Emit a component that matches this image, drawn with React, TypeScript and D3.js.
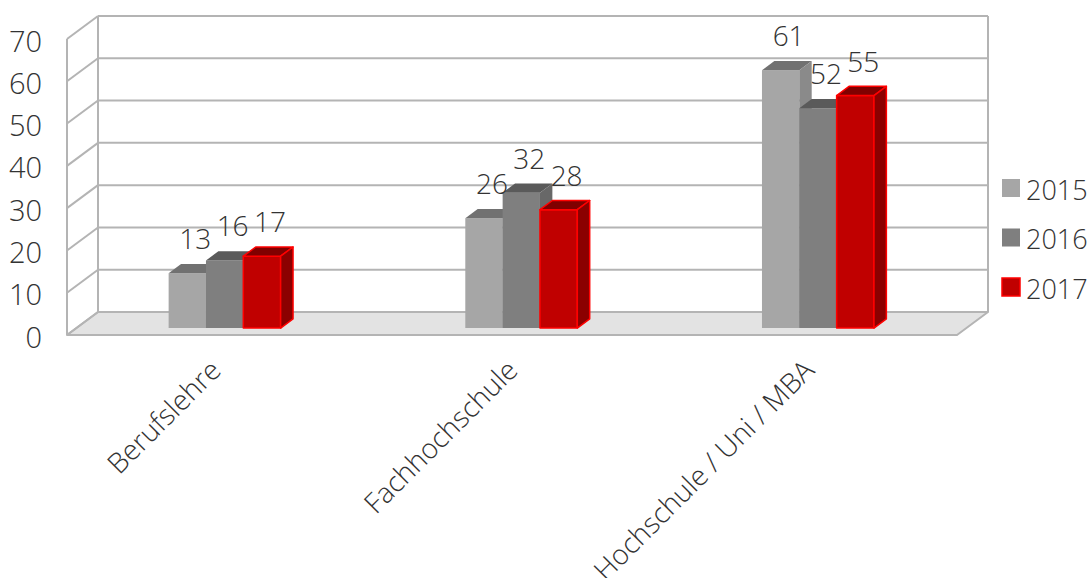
import React from 'react';
import * as d3 from 'd3';

const categories = ['Berufslehre', 'Fachhochschule', 'Hochschule / Uni / MBA'];
const series = ['2015', '2016', '2017'];
const values2015 = [13, 26, 61];
const values2016 = [16, 32, 52];
const values2017 = [17, 28, 55];
const yTicks = [0, 10, 20, 30, 40, 50, 60, 70];

const W = 1092;
const H = 578;
const FRONT_LEFT = 67;
const FRONT_RIGHT = 957;
const FRONT_BOTTOM = 335;
const FRONT_TOP = 39;
const DX = 31;
const DY = -23;
const BAR_D0 = 0.3;
const BAR_D1 = 0.7;
const GRID = '#b4b4b4';
const TEXT = '#333333';
const FONT = "'Open Sans', 'Noto Sans', sans-serif";
const WEIGHT = 300;

const styles: Record<string, { front: string; top: string; side: string; stroke: string }> = {
  '2015': { front: '#a6a6a6', top: '#717171', side: '#8a8a8a', stroke: 'none' },
  '2016': { front: '#7f7f7f', top: '#5a5a5a', side: '#686868', stroke: 'none' },
  '2017': { front: '#c00000', top: '#800000', side: '#8b0000', stroke: '#ff0000' },
};

export default function App() {
  const x = d3.scaleBand<string>().domain(categories).range([FRONT_LEFT, FRONT_RIGHT]);
  const y = d3.scaleLinear().domain([0, 70]).range([FRONT_BOTTOM, FRONT_TOP]);
  const inner = d3.scaleBand<string>().domain(series).range([-56, 56]);
  const bw = inner.bandwidth();
  const P = (px: number, py: number, d: number): [number, number] => [px + DX * d, py + DY * d];
  const poly = (pts: [number, number][]) => pts.map((p) => p.join(',')).join(' ');

  const seriesValues: Record<string, number[]> = {
    '2015': values2015,
    '2016': values2016,
    '2017': values2017,
  };

  const bars: JSX.Element[] = [];
  const labels: JSX.Element[] = [];
  categories.forEach((c, ci) => {
    const gc = (x(c) as number) + x.bandwidth() / 2;
    series.forEach((s) => {
      const v = seriesValues[s][ci];
      const x0 = gc + (inner(s) as number);
      const x1 = x0 + bw;
      const yb = y(0);
      const yv = y(v);
      const st = styles[s];
      const front = poly([P(x0, yb, BAR_D0), P(x1, yb, BAR_D0), P(x1, yv, BAR_D0), P(x0, yv, BAR_D0)]);
      const top = poly([P(x0, yv, BAR_D0), P(x1, yv, BAR_D0), P(x1, yv, BAR_D1), P(x0, yv, BAR_D1)]);
      const side = poly([P(x1, yb, BAR_D0), P(x1, yb, BAR_D1), P(x1, yv, BAR_D1), P(x1, yv, BAR_D0)]);
      const sw = st.stroke === 'none' ? 0 : 1.5;
      bars.push(
        <g key={`${c}-${s}`}>
          <polygon points={front} fill={st.front} stroke={st.stroke} strokeWidth={sw} strokeLinejoin="round" />
          <polygon points={top} fill={st.top} stroke={st.stroke} strokeWidth={sw} strokeLinejoin="round" />
          <polygon points={side} fill={st.side} stroke={st.stroke} strokeWidth={sw} strokeLinejoin="round" />
        </g>
      );
      const [lx, ly] = P(x0 + bw / 2 + 8, yv - 24, BAR_D0);
      labels.push(
        <text key={`l-${c}-${s}`} x={lx} y={ly} textAnchor="middle" fontSize={28} fontWeight={WEIGHT} fill={TEXT} fontFamily={FONT}>
          {v}
        </text>
      );
    });
  });

  const floor = poly([
    [FRONT_LEFT, y(0)],
    P(FRONT_LEFT, y(0), 1),
    P(FRONT_RIGHT, y(0), 1),
    [FRONT_RIGHT, y(0)],
  ]);

  return (
    <svg width={W} height={H} style={{ position: 'absolute', left: 0, top: 0, background: '#fff' }}>
      <polygon points={floor} fill="#e3e3e3" stroke={GRID} strokeWidth={2} strokeLinejoin="round" />
      {yTicks.map((t) => {
        const [bx, by] = P(FRONT_LEFT, y(t), 1);
        const [ex] = P(FRONT_RIGHT, y(t), 1);
        return (
          <g key={`g-${t}`}>
            <line x1={FRONT_LEFT} y1={y(t)} x2={bx} y2={by} stroke={GRID} strokeWidth={2} />
            {t > 0 && <line x1={bx} y1={by} x2={ex} y2={by} stroke={GRID} strokeWidth={2} />}
          </g>
        );
      })}
      <line x1={FRONT_LEFT} y1={y(0)} x2={FRONT_LEFT} y2={y(70)} stroke={GRID} strokeWidth={2} />
      <line x1={FRONT_LEFT + DX} y1={y(0) + DY} x2={FRONT_LEFT + DX} y2={y(70) + DY} stroke={GRID} strokeWidth={2} />
      <line x1={FRONT_RIGHT + DX} y1={y(0) + DY} x2={FRONT_RIGHT + DX} y2={y(70) + DY} stroke={GRID} strokeWidth={2} />
      {yTicks.map((t) => (
        <text key={`t-${t}`} x={42} y={y(t) + 1} textAnchor="end" dominantBaseline="central" fontSize={29} fontWeight={WEIGHT} fill={TEXT} fontFamily={FONT}>
          {t}
        </text>
      ))}
      {bars}
      {labels}
      {categories.map((c) => {
        const ax = (x(c) as number) + x.bandwidth() / 2 + DX * BAR_D0 - 2;
        const ay = 372;
        return (
          <text key={`c-${c}`} x={ax} y={ay} textAnchor="end" fontSize={28} fontWeight={WEIGHT} fill={TEXT} fontFamily={FONT} transform={`rotate(-45, ${ax}, ${ay})`}>
            {c}
          </text>
        );
      })}
      {series.map((s, i) => {
        const cy = 188 + i * 49.5;
        const st = styles[s];
        return (
          <g key={`lg-${s}`}>
            <rect x={1002} y={cy - 9} width={18} height={18} fill={st.front} stroke={st.stroke === 'none' ? 'none' : st.stroke} strokeWidth={1.5} />
            <text x={1026} y={cy + 1} dominantBaseline="central" fontSize={27} fontWeight={WEIGHT} fill={TEXT} fontFamily={FONT}>
              {s}
            </text>
          </g>
        );
      })}
    </svg>
  );
}
